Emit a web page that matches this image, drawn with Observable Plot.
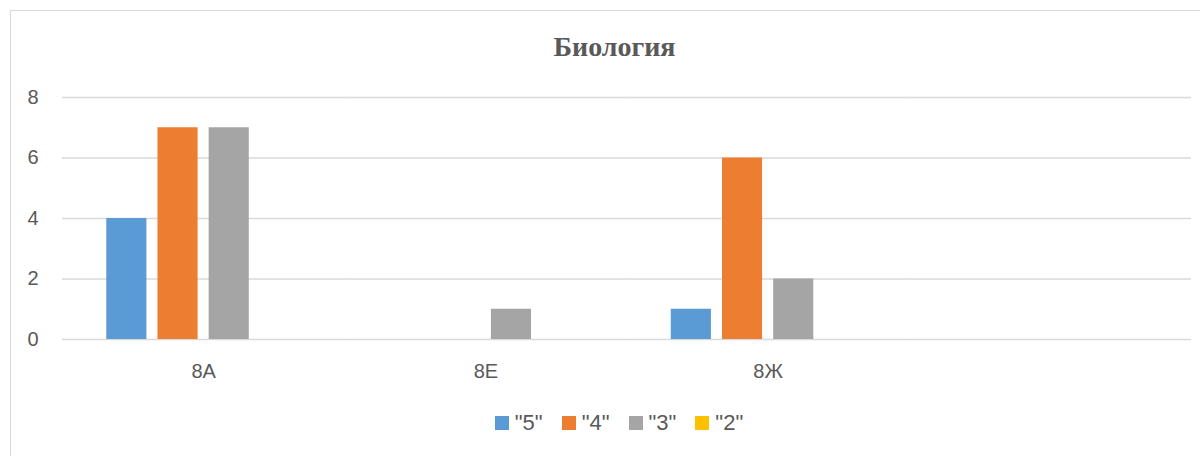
<!DOCTYPE html>
<html><head><meta charset="utf-8">
<script src="https://cdn.jsdelivr.net/npm/d3@7"></script>
<script src="https://cdn.jsdelivr.net/npm/@observablehq/plot@0.6"></script>
<style>
body{margin:0;background:#fff;font-family:"Liberation Sans",sans-serif;width:1200px;height:456px;overflow:hidden;position:relative}
#frame{position:absolute;left:10px;top:10px;width:1200px;height:470px;border:1px solid #d9d9d9;box-sizing:border-box}
#title{position:absolute;left:0;top:31px;width:1229px;text-align:center;font:bold 28px "Liberation Serif",serif;color:#595959}
#chart{position:absolute;left:0;top:0}
#legend{position:absolute;top:406px;left:9px;width:1239px;display:flex;justify-content:center;color:#595959;font:22px "Liberation Sans",sans-serif}
.lg-swatches, .lg-swatch, .lg-swatch span{font-size:22px !important;color:#595959 !important;font-family:"Liberation Sans",sans-serif !important}
.lg-swatch{margin-right:19px !important}
.lg-swatch > svg{margin-right:6px !important}
</style></head>
<body>
<div id="frame"></div>
<div id="title">Биология</div>
<div id="chart"></div>
<div id="legend"></div>
<script>
const classes = ["8А", "8Е", "8Ж", ""];
const series = ['"5"', '"4"', '"3"', '"2"'];
const values5 = [4, 0, 1, 0];
const values4 = [7, 0, 6, 0];
const values3 = [7, 1, 2, 0];
const values2 = [0, 0, 0, 0];
const colors = ["#5B9BD5", "#ED7D31", "#A5A5A5", "#FFC000"];
const yTicks = [0, 2, 4, 6, 8];

const seriesValues = [values5, values4, values3, values2];
const data = [];
classes.forEach((c, i) => {
  series.forEach((s, j) => data.push({cls: c, series: s, value: seriesValues[j][i]}));
});

const chart = Plot.plot({
  width: 1200, height: 400,
  marginLeft: 62, marginRight: 9, marginTop: 97, marginBottom: 61,
  style: {fontSize: "20px", color: "#595959", fontFamily: "Liberation Sans, sans-serif", background: "transparent"},
  fx: {domain: classes, padding: 0, round: false, label: null, axis: "bottom", tickSize: 0, tickPadding: 24},
  x: {domain: series, paddingInner: 0.216, paddingOuter: 0.865, round: false, axis: null},
  y: {domain: [0, 8], ticks: yTicks, label: null, tickSize: 0, tickPadding: 24},
  color: {domain: series, range: colors},
  marks: [
    Plot.ruleY(yTicks, {stroke: "#d9d9d9", strokeWidth: 1.5}),
    Plot.barY(data, {fx: "cls", x: "series", y: "value", fill: "series"})
  ]
});
document.getElementById("chart").appendChild(chart);

const legend = Plot.legend({
  color: {domain: series, range: colors},
  legend: "swatches",
  swatchSize: 14,
  className: "lg",
  style: {fontSize: "22px", color: "#595959", fontFamily: "Liberation Sans, sans-serif"}
});
document.getElementById("legend").appendChild(legend);
</script>
</body></html>
